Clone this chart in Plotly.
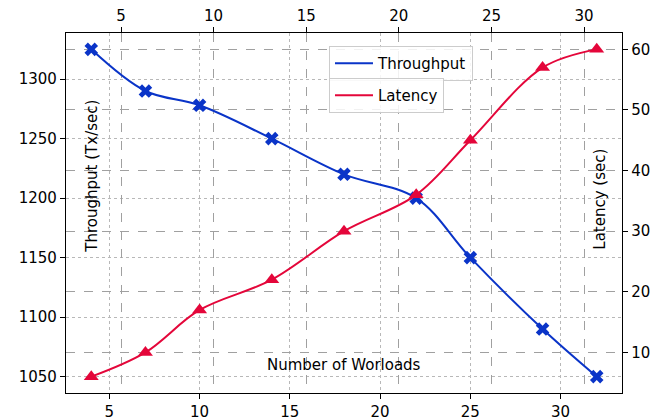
import plotly.graph_objects as go

workloads = [4, 7, 10, 14, 18, 22, 25, 29, 32]
throughput = [1325, 1290, 1278, 1250, 1220, 1200, 1150, 1090, 1050]
latency = [6, 10, 17, 22, 30, 36, 45, 57, 60]
x_ticks = [5, 10, 15, 20, 25, 30]
y_ticks = [1050, 1100, 1150, 1200, 1250, 1300]
y2_ticks = [10, 20, 30, 40, 50, 60]

BLUE = "#0a34c8"
RED = "#e4063a"
FONT = "DejaVu Sans"

fig = go.Figure()
fig.add_trace(go.Scatter(x=workloads, y=throughput, mode="lines", name="Throughput",
                         line=dict(color=BLUE, width=2, shape="spline", smoothing=1),
                         xaxis="x", yaxis="y", legend="legend"))
fig.add_trace(go.Scatter(x=workloads, y=throughput, mode="markers", showlegend=False,
                         marker=dict(symbol="x", size=12, color=BLUE),
                         xaxis="x", yaxis="y"))
fig.add_trace(go.Scatter(x=workloads, y=latency, mode="lines", name="Latency",
                         line=dict(color=RED, width=2, shape="spline", smoothing=1),
                         xaxis="x", yaxis="y2", legend="legend2"))
fig.add_trace(go.Scatter(x=workloads, y=latency, mode="markers", showlegend=False,
                         marker=dict(symbol="triangle-up", size=13, color=RED),
                         xaxis="x", yaxis="y2"))
# empty trace so that the top x axis (twin axis) is created and drawn
fig.add_trace(go.Scatter(x=[None], y=[None], mode="markers", showlegend=False,
                         hoverinfo="skip", xaxis="x2", yaxis="y2"))

axis_common = dict(showline=True, linecolor="black", linewidth=1.3, ticks="outside",
                   ticklen=5, tickwidth=1, tickcolor="black", automargin=False,
                   tickfont=dict(family=FONT, size=15, color="black"), zeroline=False)

fig.update_layout(
    template="none",
    width=662, height=420,
    margin=dict(l=66, r=40, t=33, b=27, pad=0),
    paper_bgcolor="white", plot_bgcolor="white",
    font=dict(family=FONT, size=15, color="black"),
    xaxis=dict(range=[2.6, 33.4], tickvals=x_ticks, showgrid=True, gridcolor="#b8b8b8",
               griddash="dot", gridwidth=1, side="bottom", **axis_common),
    xaxis2=dict(range=[2.03, 32.05], tickvals=x_ticks, showgrid=True, gridcolor="#a0a0a0",
                griddash="dash", gridwidth=1, side="top", overlaying="x", anchor="y2",
                **axis_common),
    yaxis=dict(range=[1036.25, 1338.75], tickvals=y_ticks, showgrid=True, gridcolor="#b8b8b8",
               griddash="dot", gridwidth=1, side="left", **axis_common),
    yaxis2=dict(range=[3.3, 62.7], tickvals=y2_ticks, showgrid=True, gridcolor="#a0a0a0",
                griddash="dash", gridwidth=1, side="right", overlaying="y", anchor="x",
                **axis_common),
    legend=dict(x=0.473, y=0.964, xanchor="left", yanchor="top",
                bgcolor="rgba(255,255,255,0.85)", bordercolor="#cccccc", borderwidth=1,
                font=dict(family=FONT, size=15), itemwidth=38,
                tracegroupgap=0),
    legend2=dict(x=0.473, y=0.875, xanchor="left", yanchor="top",
                 bgcolor="rgba(255,255,255,0.85)", bordercolor="#cccccc", borderwidth=1,
                 font=dict(family=FONT, size=15), itemwidth=38,
                 tracegroupgap=0),
    annotations=[
        dict(text="Throughput (Tx/sec)", xref="paper", yref="paper", x=0.0468, y=0.601,
             textangle=-90, showarrow=False, font=dict(family=FONT, size=15),
             xanchor="center", yanchor="middle"),
        dict(text="Latency (sec)", xref="paper", yref="paper", x=0.960, y=0.539,
             textangle=-90, showarrow=False, font=dict(family=FONT, size=15),
             xanchor="center", yanchor="middle"),
        dict(text="Number of Worloads", xref="paper", yref="paper", x=0.5, y=0.0778,
             showarrow=False, font=dict(family=FONT, size=15),
             xanchor="center", yanchor="middle"),
    ],
)

fig.write_html("out.html", config={"displayModeBar": False},
               post_script="document.body.style.margin='0px';")
